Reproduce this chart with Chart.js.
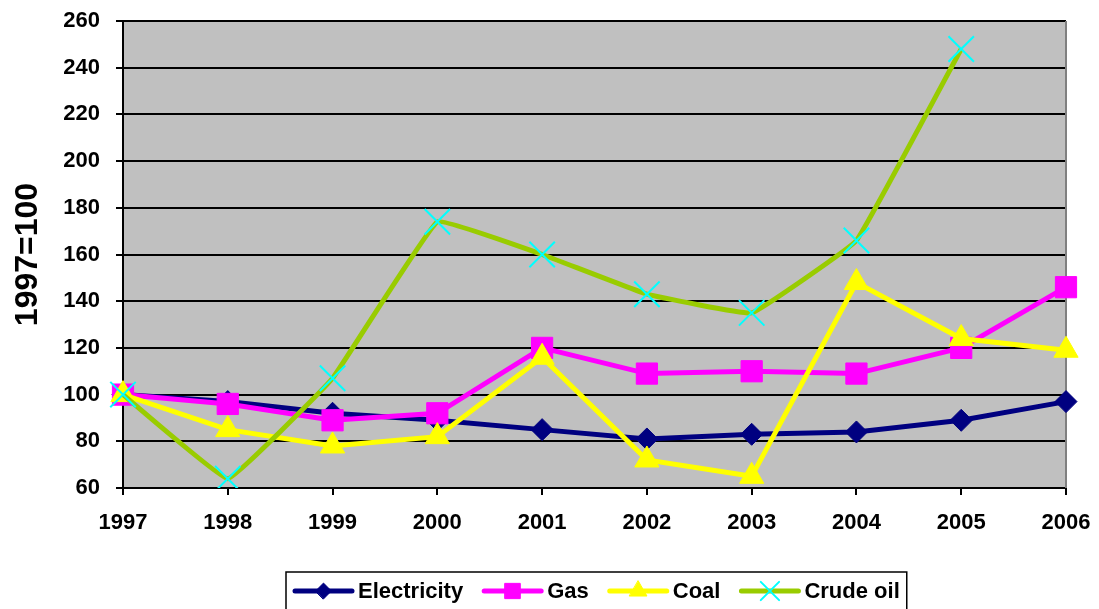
<!DOCTYPE html>
<html>
<head>
<meta charset="utf-8">
<script src="https://cdn.jsdelivr.net/npm/chart.js"></script>
<style>
    body { margin: 0; background: #ffffff; }
    #wrap { width: 1099px; height: 609px; }
</style>
</head>
<body>
<div id="wrap"><canvas id="chart" width="1099" height="609"></canvas></div>
<script>
// values, index 1997=100
const years = ['1997', '1998', '1999', '2000', '2001', '2002', '2003', '2004', '2005', '2006'];
const electricity = [100, 97, 92, 89, 85, 81, 83, 84, 89, 97];
const gas = [100, 96, 89, 92, 120, 109, 110, 109, 120, 146];
const coal = [100, 85, 78, 82, 116, 72, 65, 148, 124, 119];
const crudeOil = [100, 64, 107, 174, 160, 143, 135, 166, 248, null];
const yTicks = [60, 80, 100, 120, 140, 160, 180, 200, 220, 240, 260];

const FONT = '"Liberation Sans", Arial, sans-serif';

const seriesStyle = [
    { label: 'Electricity', data: electricity, line: '#000080', fill: '#000080', pointStyle: 'rectRot', radius: 11, order: 4 },
    { label: 'Gas', data: gas, line: '#FF00FF', fill: '#FF00FF', pointStyle: 'rect', radius: 15, order: 3 },
    { label: 'Coal', data: coal, line: '#FFFF00', fill: '#FFFF00', pointStyle: 'triangle', radius: 14, order: 2 },
    { label: 'Crude oil', data: crudeOil, line: '#99CC00', fill: '#00FFFF', pointStyle: 'crossRot', radius: 18, order: 1, tension: 0.07 }
];

// gray plot area and the gray right edge
const plotArea = {
    id: 'plotArea',
    beforeDraw(chart) {
        const a = chart.chartArea;
        const ctx = chart.ctx;
        ctx.save();
        ctx.fillStyle = '#C0C0C0';
        ctx.fillRect(a.left, a.top, a.right - a.left, a.bottom - a.top);
        ctx.restore();
    },
    beforeDatasetsDraw(chart) {
        const a = chart.chartArea;
        const ctx = chart.ctx;
        ctx.save();
        ctx.strokeStyle = '#808080';
        ctx.lineWidth = 2;
        ctx.beginPath();
        ctx.moveTo(a.right, a.top);
        ctx.lineTo(a.right, a.bottom);
        ctx.stroke();
        ctx.restore();
    }
};

// boxed legend under the chart, line sample with marker like the original
const boxLegend = {
    id: 'boxLegend',
    afterDraw(chart) {
        const ctx = chart.ctx;
        const sample = 61, textGap = 4, itemGap = 19, pad = 7;
        const cy = 591;
        ctx.save();
        ctx.font = 'bold 22px ' + FONT;
        const widths = seriesStyle.map(s => ctx.measureText(s.label).width);
        let total = pad * 2 + itemGap * (seriesStyle.length - 1);
        widths.forEach(w => { total += sample + textGap + w; });
        const left = Math.round(596 - total / 2);

        ctx.strokeStyle = '#000000';
        ctx.lineWidth = 1.5;
        ctx.strokeRect(left, 572, total, 50);

        let x = left + pad;
        seriesStyle.forEach((s, i) => {
            ctx.strokeStyle = s.line;
            ctx.lineWidth = 5;
            ctx.lineCap = 'round';
            ctx.beginPath();
            ctx.moveTo(x + 2, cy);
            ctx.lineTo(x + sample - 2, cy);
            ctx.stroke();
            if (Chart.helpers && Chart.helpers.drawPoint) {
                ctx.fillStyle = s.fill;
                ctx.strokeStyle = s.fill;
                ctx.lineWidth = s.pointStyle === 'crossRot' ? 2 : 1;
                Chart.helpers.drawPoint(ctx, {
                    pointStyle: s.pointStyle,
                    radius: s.radius * 0.72,
                    rotation: 0,
                    borderWidth: ctx.lineWidth
                }, x + sample / 2, cy);
            }
            ctx.fillStyle = '#000000';
            ctx.textBaseline = 'middle';
            ctx.textAlign = 'left';
            ctx.fillText(s.label, x + sample + textGap, cy + 1);
            x += sample + textGap + widths[i] + itemGap;
        });
        ctx.restore();
    }
};

new Chart(document.getElementById('chart'), {
    type: 'line',
    data: {
        labels: years,
        datasets: seriesStyle.map(s => ({
            label: s.label,
            data: s.data,
            borderColor: s.line,
            borderWidth: 5,
            backgroundColor: s.fill,
            pointBackgroundColor: s.fill,
            pointBorderColor: s.fill,
            pointBorderWidth: s.pointStyle === 'crossRot' ? 2 : 1,
            pointStyle: s.pointStyle,
            pointRadius: s.radius,
            pointHoverRadius: s.radius,
            tension: s.tension || 0,
            spanGaps: false,
            order: s.order
        }))
    },
    options: {
        responsive: false,
        animation: false,
        devicePixelRatio: 1,
        layout: {
            padding: { left: 0, top: 21, right: 33, bottom: 73 }
        },
        plugins: {
            legend: { display: false },
            tooltip: { enabled: false }
        },
        scales: {
            x: {
                offset: false,
                grid: {
                    drawOnChartArea: false,
                    drawTicks: true,
                    tickLength: 7,
                    color: '#000000',
                    lineWidth: 2
                },
                border: { display: true, color: '#000000', width: 2 },
                ticks: {
                    color: '#000000',
                    padding: 15,
                    maxRotation: 0,
                    autoSkip: false,
                    font: { family: FONT, size: 22, weight: 'bold' }
                },
                afterFit(scale) {
                    scale.height = 48;
                    scale.paddingLeft = 0;
                    scale.paddingRight = 0;
                }
            },
            y: {
                min: yTicks[0],
                max: yTicks[yTicks.length - 1],
                afterBuildTicks(scale) {
                    scale.ticks = yTicks.map(v => ({ value: v }));
                },
                grid: {
                    color: '#000000',
                    lineWidth: 2,
                    tickLength: 7
                },
                border: { display: true, color: '#000000', width: 2 },
                ticks: {
                    color: '#000000',
                    padding: 16,
                    font: { family: FONT, size: 22, weight: 'bold' }
                },
                title: {
                    display: true,
                    text: '1997=100',
                    color: '#000000',
                    padding: { top: 9, bottom: 0 },
                    font: { family: FONT, size: 32, weight: 'bold' }
                },
                afterFit(scale) {
                    scale.width = 123;
                    scale.paddingTop = 0;
                    scale.paddingBottom = 0;
                }
            }
        }
    },
    plugins: [plotArea, boxLegend]
});
</script>
</body>
</html>
